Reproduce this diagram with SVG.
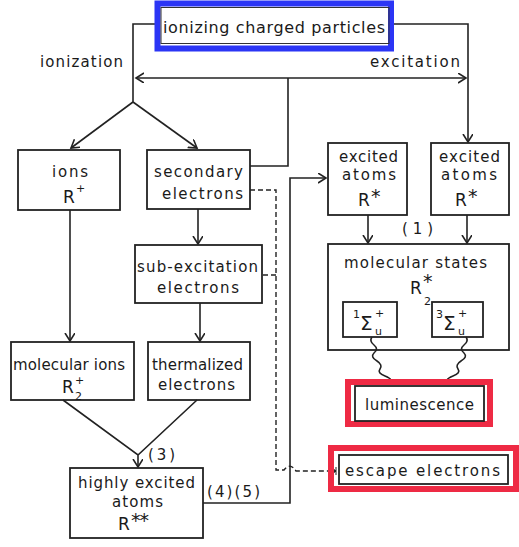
<svg xmlns="http://www.w3.org/2000/svg" width="519" height="547" viewBox="0 0 519 547">
<style>
text{font-family:"DejaVu Sans","Liberation Sans",sans-serif;font-size:15px;fill:#1a1a1a}
text.t16{font-size:16px}
text.big{font-size:17px}
text.sig{font-size:20px}
text.star{font-size:19px}
text.sup{font-size:11px}
.box{fill:none;stroke:#222;stroke-width:1.8}
.ln{fill:none;stroke:#222;stroke-width:1.6}
.dash{fill:none;stroke:#222;stroke-width:1.4;stroke-dasharray:5,3}
.red{fill:none;stroke:#ee2a44;stroke-width:6}
</style>
<defs>
<marker id="arr" markerUnits="userSpaceOnUse" markerWidth="12" markerHeight="12" refX="8" refY="5" orient="auto">
<path d="M0,0 L8,5 L0,10" fill="none" stroke="#222" stroke-width="1.6"/>
</marker>
<marker id="tick" markerUnits="userSpaceOnUse" markerWidth="8" markerHeight="10" refX="4" refY="4" orient="auto">
<path d="M0,1 L4,4 L0,7 Z M4,0 V8" fill="#222" stroke="#222" stroke-width="1"/>
</marker>
</defs>

<g id="connectors">
<path class="ln" d="M160,24 H133 V102"/>
<path class="ln" d="M300,78 H136" marker-end="url(#arr)"/>
<path class="ln" d="M300,78 H466" marker-end="url(#arr)"/>
<path class="ln" d="M390,24 H468 V142" marker-end="url(#arr)"/>
<path class="ln" d="M133,102 L71,148" marker-end="url(#arr)"/>
<path class="ln" d="M133,102 L197,148" marker-end="url(#arr)"/>
<path class="ln" d="M250,166 H288 V78"/>
<path class="ln" d="M203,503 H290 V178 H326" marker-end="url(#arr)"/>
<path class="ln" d="M70,210 V341" marker-end="url(#arr)"/>
<path class="ln" d="M198,209 V244" marker-end="url(#arr)"/>
<path class="ln" d="M200,303 V341" marker-end="url(#arr)"/>
<path class="ln" d="M63,400 L138,455 L197,400 M138,455 V467" marker-end="url(#arr)"/>
<path class="ln" d="M368,215 V243" marker-end="url(#arr)"/>
<path class="ln" d="M467,215 V243" marker-end="url(#arr)"/>
<path class="dash" d="M250,190 H276 V470 H284 Q290,462 296,471 H336" marker-end="url(#tick)"/>
<path class="dash" d="M263,275 H276"/>
<path class="ln" stroke-width="1.3" d="M372,337 q-3,4 2,8 q5,4 0,8 q-4,4 3,8 q6,4 3,8 q-3,4 5,7 q5,2 6,4"/>
<path class="ln" stroke-width="1.3" d="M466,337 q3,4 -2,8 q-5,4 0,8 q4,4 -3,8 q-6,4 -3,8 q3,4 -5,7 q-5,2 -6,4"/>
<path class="ln" d="M390,381 h5 M441,381 h5"/>
</g>

<g id="n-top">
<rect x="157.5" y="3.5" width="233.5" height="45" fill="none" stroke="#2b35f5" stroke-width="6"/>
<rect x="161" y="7.5" width="228" height="36" fill="none" stroke="#333" stroke-width="1"/>
<text class="t16" x="163" y="33" textLength="222" lengthAdjust="spacing">ionizing charged particles</text>
</g>
<g id="l-ionization"><text x="40" y="67" textLength="83" lengthAdjust="spacing">ionization</text></g>
<g id="l-excitation"><text x="370" y="67" textLength="90" lengthAdjust="spacing">excitation</text></g>

<g id="n-ions">
<rect class="box" x="18" y="150" width="102" height="60"/>
<text x="52" y="177" textLength="36" lengthAdjust="spacing">ions</text>
<text class="big" x="63" y="203">R</text><text class="sup" x="76" y="192">+</text>
</g>
<g id="n-secondary">
<rect class="box" x="147" y="150" width="103" height="59"/>
<text x="154" y="177" textLength="89" lengthAdjust="spacing">secondary</text>
<text x="162" y="199" textLength="81" lengthAdjust="spacing">electrons</text>
</g>
<g id="n-subexc">
<rect class="box" x="135" y="245" width="127" height="58"/>
<text x="137" y="272" textLength="121" lengthAdjust="spacing">sub-excitation</text>
<text x="157" y="293" textLength="82" lengthAdjust="spacing">electrons</text>
</g>
<g id="n-molions">
<rect class="box" x="11" y="342" width="123" height="58"/>
<text x="13" y="370" textLength="112" lengthAdjust="spacing">molecular ions</text>
<text class="big" x="62" y="393">R</text><text class="sup" x="75" y="384">+</text><text class="sup" x="75" y="400">2</text>
</g>
<g id="n-thermal">
<rect class="box" x="148" y="342" width="102" height="58"/>
<text x="152" y="370" textLength="91" lengthAdjust="spacing">thermalized</text>
<text x="158" y="390" textLength="77" lengthAdjust="spacing">electrons</text>
</g>
<g id="l-3"><text x="148" y="460" textLength="27" lengthAdjust="spacing">(3)</text></g>
<g id="n-highly">
<rect class="box" x="70" y="468" width="133" height="70"/>
<text x="78" y="488" textLength="117" lengthAdjust="spacing">highly excited</text>
<text x="112" y="507" textLength="51" lengthAdjust="spacing">atoms</text>
<text class="big" x="118" y="530">R</text><text class="star" x="131" y="527" textLength="18" lengthAdjust="spacing">**</text>
</g>
<g id="l-45"><text x="207" y="497" textLength="53" lengthAdjust="spacing">(4)(5)</text></g>

<g id="n-exc1">
<rect class="box" x="328" y="143" width="79" height="72"/>
<text x="339" y="162" textLength="59" lengthAdjust="spacing">excited</text>
<text x="342" y="180" textLength="54" lengthAdjust="spacing">atoms</text>
<text class="big" x="358" y="206">R</text><text class="star" x="371" y="203">*</text>
</g>
<g id="n-exc2">
<rect class="box" x="431" y="143" width="78" height="72"/>
<text x="439" y="162" textLength="61" lengthAdjust="spacing">excited</text>
<text x="441" y="180" textLength="56" lengthAdjust="spacing">atoms</text>
<text class="big" x="455" y="206">R</text><text class="star" x="468" y="203">*</text>
</g>
<g id="l-1"><text x="402" y="234" textLength="31" lengthAdjust="spacing">(1)</text></g>
<g id="n-molstates">
<rect class="box" x="328" y="244" width="181" height="106"/>
<text x="344" y="268" textLength="143" lengthAdjust="spacing">molecular states</text>
<text class="big" x="410" y="294">R</text><text class="star" x="423" y="288">*</text><text class="sup" x="424" y="305">2</text>
<g id="n-sigma1">
<rect class="box" x="343" y="302" width="54" height="35"/>
<text class="sup" x="353" y="318">1</text><text class="sig" x="360" y="330">Σ</text><text class="sup" x="375" y="317">+</text><text class="sup" x="375" y="335">u</text>
</g>
<g id="n-sigma3">
<rect class="box" x="432" y="302" width="51" height="35"/>
<text class="sup" x="436" y="318">3</text><text class="sig" x="443" y="330">Σ</text><text class="sup" x="458" y="317">+</text><text class="sup" x="458" y="335">u</text>
</g>
</g>
<g id="n-lum">
<rect class="red" x="348" y="382" width="142" height="42"/>
<rect class="box" x="355" y="386" width="129" height="35"/>
<text x="365" y="410" textLength="109" lengthAdjust="spacing">luminescence</text>
</g>
<g id="n-escape">
<rect class="red" x="331" y="448" width="185" height="41"/>
<rect class="box" x="339" y="455" width="169" height="29"/>
<text x="345" y="476" textLength="155" lengthAdjust="spacing">escape electrons</text>
</g>
</svg>
